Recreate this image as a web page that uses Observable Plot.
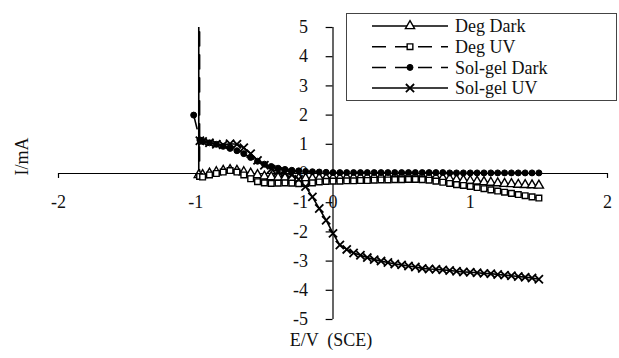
<!DOCTYPE html>
<html>
<head>
<meta charset="utf-8">
<script src="https://cdn.jsdelivr.net/npm/d3@7"></script>
<script src="https://cdn.jsdelivr.net/npm/@observablehq/plot@0.6"></script>
<style>
  html, body { margin: 0; padding: 0; background: #fff; }
  svg { display: block; }
</style>
</head>
<body>
<div id="chart"></div>
<script>
// ---- data ----
const seriesNames = ["Deg Dark", "Deg UV", "Sol-gel Dark", "Sol-gel UV"];

// shared sweep potentials (V vs SCE)
const potential = [-0.95, -0.90, -0.85, -0.80, -0.75, -0.70, -0.65, -0.60, -0.55, -0.50,
  -0.45, -0.40, -0.35, -0.30, -0.25, -0.20, -0.15, -0.10, -0.05, 0.00,
  0.05, 0.10, 0.15, 0.20, 0.25, 0.30, 0.35, 0.40, 0.45, 0.50,
  0.55, 0.60, 0.65, 0.70, 0.75, 0.80, 0.85, 0.90, 0.95, 1.00,
  1.05, 1.10, 1.15, 1.20, 1.25, 1.30, 1.35, 1.40, 1.45, 1.50];

// leading points of each sweep (before the shared grid)
const degDarkLeadE = [-0.978, -0.978];
const degDarkLeadI = [8.0, -0.05];
const degUVLeadE = [-0.972, -0.972];
const degUVLeadI = [8.0, -0.10];
const solDarkLeadE = [-1.015, -0.97];
const solDarkLeadI = [2.0, 1.15];
const solUVLeadE = [-0.97];
const solUVLeadI = [1.12];

const degDarkI = [-0.05, 0.00, 0.05, 0.10, 0.12, 0.10, 0.05, 0.00, -0.05, -0.10,
  -0.12, -0.14, -0.15, -0.16, -0.17, -0.17, -0.17, -0.16, -0.16, -0.15,
  -0.15, -0.14, -0.14, -0.13, -0.13, -0.12, -0.12, -0.11, -0.10, -0.10,
  -0.10, -0.10, -0.11, -0.12, -0.14, -0.16, -0.19, -0.21, -0.23, -0.25,
  -0.27, -0.29, -0.31, -0.33, -0.35, -0.36, -0.38, -0.39, -0.40, -0.41];

const degUVI = [-0.12, -0.05, 0.00, 0.05, 0.10, 0.05, -0.05, -0.18, -0.28, -0.32,
  -0.34, -0.33, -0.32, -0.33, -0.35, -0.34, -0.32, -0.29, -0.27, -0.26,
  -0.26, -0.25, -0.25, -0.24, -0.24, -0.23, -0.22, -0.22, -0.21, -0.21,
  -0.20, -0.20, -0.21, -0.23, -0.26, -0.30, -0.34, -0.38, -0.41, -0.44,
  -0.48, -0.52, -0.56, -0.60, -0.64, -0.68, -0.72, -0.76, -0.80, -0.84];

const solDarkI = [1.10, 1.05, 1.00, 0.93, 0.86, 0.78, 0.68, 0.55, 0.42, 0.32,
  0.24, 0.18, 0.14, 0.11, 0.09, 0.07, 0.06, 0.05, 0.04, 0.03,
  0.03, 0.03, 0.03, 0.03, 0.03, 0.03, 0.03, 0.03, 0.03, 0.03,
  0.03, 0.03, 0.03, 0.03, 0.03, 0.03, 0.02, 0.02, 0.02, 0.02,
  0.02, 0.02, 0.02, 0.02, 0.02, 0.02, 0.02, 0.02, 0.02, 0.02];

const solUVI = [1.10, 1.05, 1.00, 0.98, 1.02, 1.00, 0.88, 0.68, 0.45, 0.28,
  0.15, 0.07, 0.02, -0.05, -0.20, -0.45, -0.80, -1.20, -1.60, -2.05,
  -2.45, -2.60, -2.72, -2.80, -2.88, -2.95, -3.00, -3.05, -3.10, -3.13,
  -3.17, -3.20, -3.25, -3.27, -3.28, -3.30, -3.32, -3.35, -3.37, -3.38,
  -3.40, -3.42, -3.43, -3.46, -3.48, -3.50, -3.53, -3.55, -3.58, -3.62];

const xTicks = [-2, -1, 0, 1, 2];
const yTicks = [-5, -4, -3, -2, -1, 0, 1, 2, 3, 4, 5];
const xTitle = "E/V  (SCE)";
const yTitle = "I/mA";

// ---- build table ----
function build(name, leadE, leadI, vals) {
  const e = leadE.concat(potential);
  const i = leadI.concat(vals);
  return e.map((E, k) => ({series: name, E, I: i[k]}));
}
const tables = [
  build(seriesNames[0], degDarkLeadE, degDarkLeadI, degDarkI),
  build(seriesNames[1], degUVLeadE, degUVLeadI, degUVI),
  build(seriesNames[2], solDarkLeadE, solDarkLeadI, solDarkI),
  build(seriesNames[3], solUVLeadE, solUVLeadI, solUVI)
];

// ---- styles ----
const FONT = "Liberation Serif";
const styles = [
  {dash: null, symbol: "triangle", r: 3.4, fill: "white", stroke: "black", sw: 1.4},
  {dash: "14,9", symbol: "square", r: 3.2, fill: "white", stroke: "black", sw: 1.4},
  {dash: "14,9", symbol: "circle", r: 3.0, fill: "black", stroke: "black", sw: 1},
  {dash: null, symbol: "times", r: 3.8, fill: "none", stroke: "black", sw: 1.8}
];

const tickLenX = 0.05;  // y-axis tick length in x units
const tickLenY = 0.17;  // x-axis tick length in y units

const marks = [
  // tick labels (behind curves)
  Plot.text(yTicks, {x: 0, y: d => d, text: d => String(d), textAnchor: "end", dx: -25, fontSize: 18, fontFamily: FONT, fill: "#111"}),
  Plot.text(xTicks, {x: d => d, y: 0, text: d => String(d), textAnchor: "middle", dy: 29, fontSize: 18, fontFamily: FONT, fill: "#111"}),
  // axes
  Plot.ruleY([0], {x1: xTicks[0], x2: xTicks[xTicks.length - 1], stroke: "black", strokeWidth: 1.2}),
  Plot.ruleX([0], {y1: yTicks[0], y2: yTicks[yTicks.length - 1], stroke: "black", strokeWidth: 1.2}),
  Plot.ruleY(yTicks, {y: d => d, x1: 0, x2: -tickLenX, stroke: "black", strokeWidth: 1.2}),
  Plot.ruleX(xTicks, {x: d => d, y1: 0, y2: -tickLenY, stroke: "black", strokeWidth: 1.2}),
  // titles
  Plot.text([yTitle], {frameAnchor: "left", dx: -36, dy: 2, rotate: -90, text: d => d, fontSize: 18, fontFamily: FONT, fill: "#111"}),
  Plot.text([xTitle], {frameAnchor: "bottom", dy: 26, dx: -2, text: d => d, fontSize: 18, fontFamily: FONT, fill: "#111"})
];

tables.forEach((t, k) => {
  const s = styles[k];
  marks.push(Plot.line(t, {x: "E", y: "I", stroke: "black", strokeWidth: 1.6, strokeDasharray: s.dash, clip: true}));
});
tables.forEach((t, k) => {
  const s = styles[k];
  marks.push(Plot.dot(t, {x: "E", y: "I", symbol: s.symbol, r: s.r, fill: s.fill, stroke: s.stroke, strokeWidth: s.sw, clip: true}));
});

const svg = Plot.plot({
  width: 619,
  height: 358,
  marginLeft: 58,
  marginRight: 12,
  marginTop: 27,
  marginBottom: 39,
  x: {domain: [-2, 2], axis: null},
  y: {domain: [-5, 5], axis: null},
  style: {background: "white"},
  marks
});

// ---- legend (inside the plot, top right) ----
const g = d3.select(svg).append("g")
  .attr("font-family", FONT).attr("font-size", 18).attr("text-anchor", "start");
g.append("rect").attr("x", 346.5).attr("y", 13.5).attr("width", 270).attr("height", 87)
  .attr("fill", "white").attr("stroke", "#444").attr("stroke-width", 1);
const symbolMap = {triangle: d3.symbolTriangle, square: d3.symbolSquare, circle: d3.symbolCircle, times: d3.symbolTimes};
seriesNames.forEach((name, k) => {
  const s = styles[k];
  const y = 26 + k * 20.7;
  g.append("line").attr("x1", 372).attr("x2", 448).attr("y1", y).attr("y2", y)
    .attr("stroke", "black").attr("stroke-width", 1.5).attr("stroke-dasharray", s.dash);
  g.append("path").attr("transform", `translate(410,${y})`)
    .attr("d", d3.symbol(symbolMap[s.symbol], Math.PI * s.r * s.r)())
    .attr("fill", s.fill).attr("stroke", s.stroke).attr("stroke-width", s.sw);
  g.append("text").attr("x", 455).attr("y", y).attr("dy", "0.35em")
    .attr("text-anchor", "start").attr("fill", "#111").text(name);
});

document.getElementById("chart").appendChild(svg);
</script>
</body>
</html>
